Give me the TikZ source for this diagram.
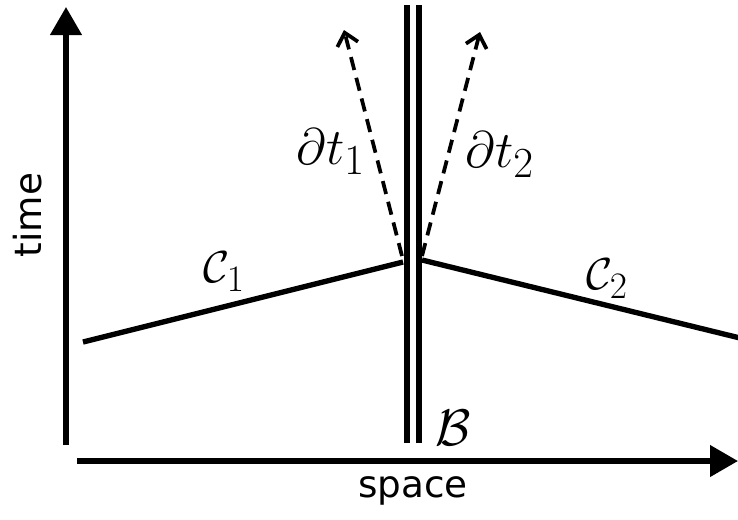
\documentclass[tikz,border=0pt]{standalone}
\usepackage{fontspec}
\newfontfamily\labelfont{DejaVu Sans}
\usetikzlibrary{arrows.meta}
\begin{document}
\begin{tikzpicture}[x=0.75pt,y=-0.75pt,
  axis/.style={line width=4pt,-{Triangle[length=21pt,width=23pt]}},
  wall/.style={line width=4.2pt},
  curve/.style={line width=4pt},
  normal/.style={line width=2.8pt,dash pattern=on 10pt off 6pt,-{Straight Barb[length=9pt,width=16pt,line width=2.8pt]}},
  axlabel/.style={font=\labelfont\fontsize{28}{32}\selectfont},
  mlabel/.style={font=\Huge,scale=1.55,transform shape},
  clabel/.style={font=\Huge,scale=1.35,transform shape}]
\useasboundingbox (0,0) rectangle (738,519);
% coordinates
\coordinate (tb) at (66,445);
\coordinate (tt) at (66,7);
\coordinate (sl) at (77,461);
\coordinate (sr) at (738,461);
\coordinate (w1b) at (407,443);
\coordinate (w1t) at (407,5);
\coordinate (w2b) at (419,443);
\coordinate (w2t) at (419,5);
\coordinate (c1a) at (83,342);
\coordinate (c1b) at (403,262);
\coordinate (c2a) at (422,260);
\coordinate (c2b) at (740,338);
\coordinate (n1a) at (402,256);
\coordinate (n1b) at (344,30);
\coordinate (n2a) at (422,256);
\coordinate (n2b) at (480,32);
% axes
\draw[axis] (tb) -- (tt);
\draw[axis] (sl) -- (sr);
% boundary
\draw[wall] (w1b) -- (w1t);
\draw[wall] (w2b) -- (w2t);
% curves
\draw[curve] (c1a) -- (c1b);
\draw[curve] (c2a) -- (c2b);
% normals
\draw[normal] (n1a) -- (n1b);
\draw[normal] (n2a) -- (n2b);
% labels
\node[axlabel,rotate=90] (time) at (28,215) {time};
\node[axlabel] (space) at (413,491) {space};
\node[mlabel] (dt1) at (331,152) {$\partial t_1$};
\node[mlabel] (dt2) at (500,155) {$\partial t_2$};
\node[clabel] (C1) at (224,272) {$\mathcal{C}_1$};
\node[clabel] (C2) at (607,279) {$\mathcal{C}_2$};
\node[mlabel] (B) at (453,428) {$\mathcal{B}$};
\end{tikzpicture}
\end{document}
